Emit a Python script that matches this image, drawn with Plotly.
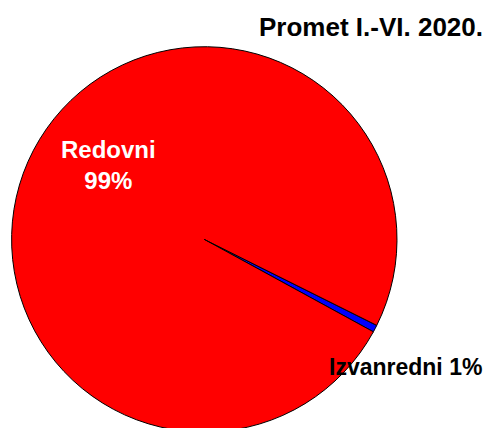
import plotly.graph_objects as go

labels = ["Izvanredni", "Redovni"]
values = [0.6, 99.4]
colors = ["#0000ff", "#ff0000"]
title = "Promet I.-VI. 2020."

# page body has an 8px margin, so figure coords = screen coords - 8
W, H = 484, 428
cx, cy, r = 196.3, 231.4, 192.7  # pixel centre / radius of the pie

total = sum(values)
pct = [f"{round(v / total * 100)}%" for v in values]

fig = go.Figure(go.Pie(
    labels=labels, values=values, sort=False, direction="clockwise",
    rotation=116.5,
    marker=dict(colors=colors, line=dict(color="black", width=1)),
    textinfo="none", hoverinfo="label+percent", showlegend=False,
    domain=dict(x=[(cx - r) / W, (cx + r) / W],
                y=[(H - cy - r) / H, (H - cy + r) / H]),
))

font = "Liberation Sans, Arial"

fig.add_annotation(x=100 / W, y=1 - 157 / H, xref="paper", yref="paper",
                   xanchor="center", yanchor="middle",
                   text=f"<b>{labels[1]}<br>{pct[1]}</b>", showarrow=False,
                   font=dict(family=font, size=24, color="white"))
fig.add_annotation(x=397 / W, y=1 - 359 / H, xref="paper", yref="paper",
                   xanchor="center", yanchor="middle",
                   text=f"<b>{labels[0]} {pct[0]}</b>", showarrow=False,
                   font=dict(family=font, size=23, color="black"))

fig.update_layout(
    width=W, height=H, margin=dict(l=0, r=0, t=0, b=0),
    paper_bgcolor="white", plot_bgcolor="white",
    title=dict(text=f"<b>{title}</b>", x=475 / W, xanchor="right",
               y=1 - 19 / H, yanchor="middle",
               font=dict(family=font, size=26, color="black")),
)

fig.write_html("out.html")
